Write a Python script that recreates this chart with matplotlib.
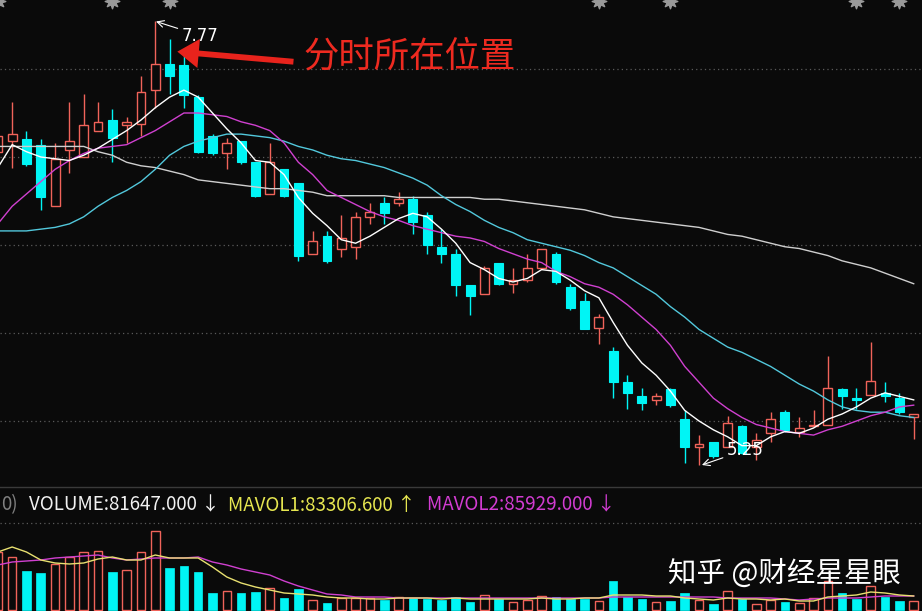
import matplotlib
matplotlib.use("Agg")
import matplotlib.pyplot as plt
from matplotlib.lines import Line2D

plt.rcParams['font.family'] = ['Noto Sans CJK SC', 'DejaVu Sans']

# ---- price data (daily candles) ----
opens = [7.03, 7.09, 7.10, 7.07, 6.72, 7.04, 7.00, 7.15, 7.21, 7.18,
         7.19, 7.38, 7.53, 7.52, 7.34, 7.12, 7.02, 7.09, 6.97, 6.79,
         6.93, 6.85, 6.45, 6.55, 6.48, 6.49, 6.66, 6.74, 6.74, 6.76,
         6.67, 6.49, 6.45, 6.27, 6.22, 6.40, 6.28, 6.30, 6.37, 6.45,
         6.26, 6.18, 6.03, 5.90, 5.72, 5.64, 5.62, 5.68, 5.51, 5.35,
         5.38, 5.35, 5.47, 5.35, 5.43, 5.55, 5.44, 5.47, 5.48, 5.68,
         5.63, 5.65, 5.66, 5.63, 5.52]
highs = [7.15, 7.31, 7.15, 7.10, 7.08, 7.31, 7.36, 7.31, 7.27, 7.23,
         7.46, 7.77, 7.67, 7.60, 7.35, 7.13, 7.11, 7.09, 6.97, 7.08,
         6.93, 6.85, 6.58, 6.58, 6.67, 6.69, 6.74, 6.77, 6.80, 6.78,
         6.69, 6.59, 6.48, 6.27, 6.38, 6.40, 6.37, 6.45, 6.48, 6.46,
         6.28, 6.23, 6.11, 5.92, 5.76, 5.69, 5.66, 5.69, 5.56, 5.42,
         5.38, 5.53, 5.48, 5.43, 5.55, 5.56, 5.52, 5.56, 5.87, 5.69,
         5.69, 5.95, 5.72, 5.66, 5.54]
lows = [6.98, 6.94, 6.95, 6.70, 6.72, 6.91, 7.00, 7.15, 6.97, 7.08,
        7.12, 7.28, 7.36, 7.28, 7.02, 7.01, 6.93, 6.96, 6.77, 6.79,
        6.77, 6.41, 6.45, 6.40, 6.43, 6.42, 6.62, 6.62, 6.72, 6.56,
        6.45, 6.40, 6.21, 6.10, 6.22, 6.27, 6.23, 6.29, 6.37, 6.28,
        6.13, 6.02, 5.94, 5.63, 5.57, 5.56, 5.59, 5.58, 5.26, 5.25,
        5.29, 5.35, 5.31, 5.28, 5.38, 5.44, 5.41, 5.47, 5.48, 5.57,
        5.57, 5.65, 5.61, 5.54, 5.40]
closes = [7.12, 7.13, 6.96, 6.77, 6.99, 7.09, 7.18, 7.20, 7.11, 7.20,
          7.37, 7.53, 7.46, 7.35, 7.03, 7.02, 7.08, 6.97, 6.78, 6.97,
          6.78, 6.44, 6.52, 6.41, 6.54, 6.66, 6.69, 6.68, 6.76, 6.63,
          6.50, 6.45, 6.27, 6.21, 6.37, 6.28, 6.30, 6.37, 6.48, 6.29,
          6.14, 6.02, 6.09, 5.72, 5.66, 5.60, 5.64, 5.59, 5.35, 5.37,
          5.30, 5.49, 5.32, 5.39, 5.51, 5.45, 5.46, 5.48, 5.69, 5.64,
          5.62, 5.73, 5.64, 5.55, 5.54]

# moving average lines
ma5 = [6.94, 7.07, 7.03, 7.00, 6.99, 6.98, 7.01, 7.05, 7.10, 7.15,
       7.21, 7.28, 7.34, 7.38, 7.34, 7.25, 7.16, 7.08, 6.98, 6.97,
       6.90, 6.77, 6.68, 6.61, 6.53, 6.51, 6.55, 6.60, 6.65, 6.68,
       6.66, 6.59, 6.51, 6.40, 6.36, 6.31, 6.29, 6.31, 6.36, 6.35,
       6.30, 6.24, 6.20, 6.06, 5.93, 5.83, 5.76, 5.67, 5.56, 5.50,
       5.45, 5.41, 5.36, 5.36, 5.41, 5.44, 5.43, 5.46, 5.51, 5.54,
       5.58, 5.63, 5.66, 5.64, 5.62]
ma10 = [6.62, 6.72, 6.79, 6.86, 6.93, 6.98, 7.02, 7.05, 7.06, 7.07,
        7.11, 7.15, 7.20, 7.25, 7.25, 7.24, 7.23, 7.20, 7.18, 7.15,
        7.08, 6.97, 6.90, 6.81, 6.77, 6.73, 6.69, 6.66, 6.64, 6.61,
        6.59, 6.57, 6.55, 6.54, 6.52, 6.48, 6.45, 6.42, 6.40, 6.35,
        6.32, 6.28, 6.26, 6.22, 6.16, 6.09, 6.02, 5.93, 5.81, 5.72,
        5.63, 5.57, 5.52, 5.48, 5.46, 5.44, 5.43, 5.42, 5.45, 5.47,
        5.50, 5.53, 5.55, 5.58, 5.59]
ma20 = [6.58, 6.58, 6.58, 6.59, 6.60, 6.62, 6.66, 6.72, 6.77, 6.81,
        6.86, 6.93, 7.01, 7.06, 7.09, 7.11, 7.13, 7.13, 7.12, 7.11,
        7.09, 7.06, 7.04, 7.01, 6.99, 6.98, 6.96, 6.94, 6.91, 6.88,
        6.84, 6.78, 6.73, 6.69, 6.64, 6.60, 6.57, 6.53, 6.51, 6.49,
        6.47, 6.44, 6.40, 6.37, 6.32, 6.27, 6.22, 6.15, 6.09, 6.02,
        5.97, 5.92, 5.89, 5.85, 5.81, 5.76, 5.71, 5.67, 5.62, 5.58,
        5.56, 5.55, 5.55, 5.53, 5.52]
ma60 = [7.06, 7.06, 7.06, 7.06, 7.06, 7.06, 7.06, 7.03, 7.01, 6.97,
        6.95, 6.94, 6.92, 6.90, 6.87, 6.86, 6.85, 6.84, 6.83, 6.82,
        6.82, 6.81, 6.80, 6.78, 6.78, 6.78, 6.78, 6.78, 6.77, 6.77,
        6.77, 6.77, 6.77, 6.77, 6.76, 6.76, 6.75, 6.74, 6.73, 6.72,
        6.71, 6.70, 6.68, 6.66, 6.65, 6.64, 6.63, 6.62, 6.61, 6.60,
        6.58, 6.56, 6.55, 6.53, 6.51, 6.49, 6.48, 6.46, 6.44, 6.41,
        6.39, 6.37, 6.34, 6.31, 6.28]

# volume (thousand lots) and its moving averages
volume = [348, 318, 234, 222, 276, 318, 348, 354, 228, 240,
          348, 474, 252, 264, 228, 102, 114, 102, 108, 132,
          72, 126, 60, 42, 72, 72, 72, 60, 78, 72,
          66, 60, 78, 48, 90, 66, 48, 60, 84, 78,
          66, 66, 54, 174, 78, 66, 48, 54, 102, 60,
          36, 114, 66, 36, 60, 48, 42, 72, 174, 102,
          66, 144, 78, 54, 54]
mavol1 = [348, 378, 348, 300, 282, 276, 282, 306, 318, 300,
          300, 330, 312, 312, 312, 258, 198, 162, 138, 120,
          102, 96, 90, 78, 72, 72, 66, 66, 72, 72,
          72, 66, 72, 66, 66, 66, 66, 66, 72, 66,
          66, 72, 72, 90, 90, 90, 84, 84, 72, 66,
          60, 72, 66, 66, 60, 66, 54, 54, 78, 84,
          90, 108, 102, 90, 84]
mavol2 = [270, 288, 294, 300, 312, 318, 324, 330, 312, 300,
          306, 312, 312, 312, 318, 288, 270, 246, 228, 210,
          174, 144, 120, 96, 90, 78, 78, 78, 72, 72,
          72, 72, 72, 72, 72, 72, 72, 72, 72, 72,
          72, 72, 72, 78, 78, 78, 78, 78, 78, 78,
          78, 72, 72, 72, 72, 66, 60, 66, 72, 72,
          72, 78, 84, 84, 84]

grid_levels = [7.5, 7.0, 6.5, 6.0, 5.5]
event_marks = [0, 8, 12, 42, 47, 60, 63]

BG = '#0a0a0a'
RED = '#f0635a'
CYAN = '#00f5f5'

n = len(closes)
idx = list(range(n))
up = [c >= o for o, c in zip(opens, closes)]

fig = plt.figure(figsize=(9.22, 6.11), dpi=100, facecolor=BG)
ax = fig.add_axes([0, 124 / 611, 1, 487 / 611], facecolor=BG)
axv = fig.add_axes([0, 0, 1, 123 / 611], facecolor=BG)
for a in (ax, axv):
    a.set_axis_off()
    a.set_xlim(0.15, 64.58)
ax.set_ylim(5.125, 7.892)
axv.set_ylim(-6, 732)

for g in grid_levels:
    ax.axhline(g, color='#5a5a5a', lw=0.9, ls=(0, (1, 2.5)), zorder=0)

# candles
w = 0.62
for i in idx:
    col = RED if up[i] else CYAN
    ax.vlines(i, lows[i], highs[i], color=col, lw=1, zorder=2)
    bottom = min(opens[i], closes[i])
    height = max(abs(closes[i] - opens[i]), 0.006)
    if up[i]:
        ax.bar(i, height, w, bottom=bottom, facecolor=BG, edgecolor=RED, lw=1, zorder=3)
    else:
        ax.bar(i, height, w, bottom=bottom, facecolor=CYAN, edgecolor=CYAN, lw=0.8, zorder=3)

ax.plot(idx, ma60, color='#cfcfcf', lw=1, zorder=4)
ax.plot(idx, ma20, color='#52c8dc', lw=1, zorder=4)
ax.plot(idx, ma10, color='#d040d0', lw=1, zorder=4)
ax.plot(idx, ma5, color='#ffffff', lw=1, zorder=5)

# event icons at top edge
ax.scatter(event_marks, [7.885] * len(event_marks), marker=(8, 1, 0), s=110,
           color='#9a9a9a', zorder=6, clip_on=True)

# high / low labels
ax.annotate('7.77', xy=(11.05, 7.77), xytext=(12.85, 7.69), color='white',
            fontsize=12, family='DejaVu Sans', va='center', ha='left',
            arrowprops=dict(arrowstyle='->', color='white', lw=0.8, shrinkA=1, shrinkB=0))
ax.annotate('5.25', xy=(49.2, 5.25), xytext=(50.95, 5.335), color='white',
            fontsize=12, family='DejaVu Sans', va='center', ha='left',
            arrowprops=dict(arrowstyle='->', color='white', lw=0.8, shrinkA=1, shrinkB=0))

# red callout
ax.annotate('', xy=(12.35, 7.60), xytext=(20.85, 7.54),
            arrowprops=dict(arrowstyle='simple,head_length=1.1,head_width=1.5,tail_width=0.3',
                            color='#e8231c', mutation_scale=14, lw=0))
fig.text(303 / 922, 1 - 57 / 611, '分时所在位置', color='#ee2a20', fontsize=25.5,
         ha='left', va='center')

# volume panel
for i in idx:
    if up[i]:
        axv.bar(i, volume[i], 0.6, facecolor=BG, edgecolor=RED, lw=1, zorder=2)
    else:
        axv.bar(i, volume[i], 0.6, facecolor=CYAN, edgecolor=CYAN, lw=0.5, zorder=2)
axv.plot(idx, mavol2, color='#d040d0', lw=1, zorder=3)
axv.plot(idx, mavol1, color='#e8e070', lw=1, zorder=3)
axv.axhline(522, color='#5a5a5a', lw=0.9, ls=(0, (1, 2.5)), zorder=0)

fig.add_artist(Line2D([0, 1], [124 / 611, 124 / 611], transform=fig.transFigure,
                      color='#3a3a3a', lw=1))

ty = 1 - 505 / 611
fs = 13.5
fig.text(1 / 922, ty, '0)', color='#808080', fontsize=fs, va='center', ha='left')
fig.text(29 / 922, ty, 'VOLUME:81647.000 ↓', color='#f2f2f2', fontsize=fs, va='center', ha='left')
fig.text(228 / 922, ty, 'MAVOL1:83306.600 ↑', color='#e6e650', fontsize=fs, va='center', ha='left')
fig.text(427 / 922, ty, 'MAVOL2:85929.000 ↓', color='#d23cd2', fontsize=fs, va='center', ha='left')

fig.text(668 / 922, 1 - 574 / 611, '知乎 @财经星星眼', color='white', fontsize=20.5,
         ha='left', va='center')

fig.savefig('out.png', dpi=100, facecolor=BG)
